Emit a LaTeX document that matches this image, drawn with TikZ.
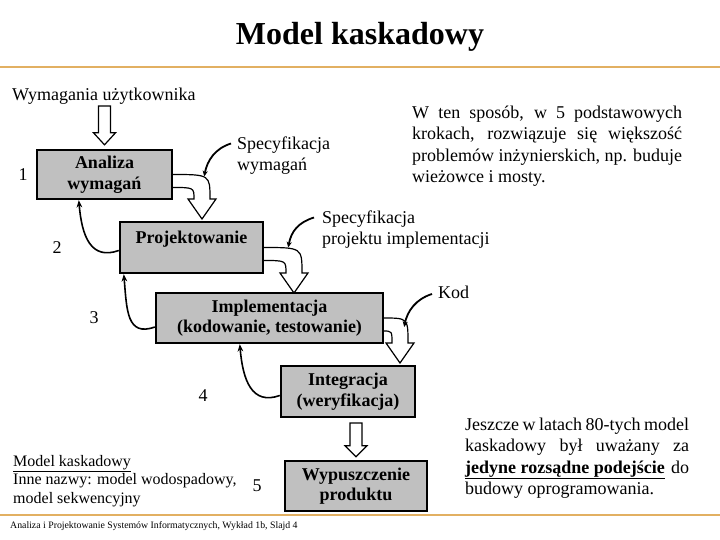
\documentclass[tikz,border=0pt]{standalone}
\usepackage{fontspec}
\setmainfont{Liberation Serif}
\usetikzlibrary{arrows.meta, positioning, calc}
\definecolor{slideline}{RGB}{226,176,98}
\definecolor{boxgray}{RGB}{192,192,192}
\hyphenpenalty=10000
\exhyphenpenalty=10000

\begin{document}
\begin{tikzpicture}[
  x=1pt, y=-1pt,
  box/.style={draw, line width=2.4pt, fill=boxgray, align=center, inner sep=0pt,
    font=\fontsize{18}{20.5}\selectfont\bfseries},
  txt/.style={inner sep=0pt, font=\fontsize{18}{21.5}\selectfont},
  num/.style={inner sep=0pt, font=\fontsize{18}{20}\selectfont},
  hollow/.style={draw, line width=1.2pt, fill=white, line join=miter},
  back/.style={-{Stealth[length=2.6mm, width=2mm]}, line width=1.6pt},
  pointer/.style={-{Stealth[length=2mm, width=1.8mm]}, line width=1.8pt},
]
  \useasboundingbox (0,0) rectangle (720,540);
  \draw[slideline, line width=1.5pt] (0,67) -- (720,67);
  \draw[slideline, line width=1.5pt] (0,515) -- (720,515);

  \node[font=\fontsize{32}{36}\selectfont\bfseries] (title) at (360,37) {Model kaskadowy};

  % bent hollow arrows go first, the boxes cover their ends
  \coordinate (anaE) at (172,174.5);
  \coordinate (projE) at (263,247.5);
  \coordinate (implE) at (383,318);
  \foreach \a/\s/\b/\d in {anaE/199/proj/30, projE/273/impl/31, implE/343/integ/17} {
    \draw[hollow] let \p1=(\a), \p2=(0,\s), \p3=(0,\s+20) in
      (\x1,\y1) .. controls (\x1+\d pt+8pt,\y1) .. (\x1+\d pt+8pt,\y2)
      -- (\x1+\d pt+14pt,\y2) -- (\x1+\d pt,\y3) -- (\x1+\d pt-14pt,\y2) -- (\x1+\d pt-8pt,\y2)
      .. controls (\x1+\d pt-8pt,\y1-13pt) .. (\x1,\y1-13pt);
  }

  \node[box, minimum width=135, minimum height=49] (ana) at (104.5,174.5) {Analiza\\wymagań};
  \node[box, minimum width=143, minimum height=51] (proj) at (191.5,247.5) {Projektowanie\\\mbox{}};
  \node[box, minimum width=227, minimum height=50] (impl) at (269.5,318) {Implementacja\\(kodowanie, testowanie)};
  \node[box, minimum width=134, minimum height=51] (integ) at (348,391.5) {Integracja\\(weryfikacja)};
  \node[box, minimum width=142, minimum height=50] (wyp) at (356,486) {Wypuszczenie\\produktu};

  \node[num, left=8pt of ana] (n1) {1};
  \node[num, left=57pt of proj] (n2) {2};
  \node[num, left=56pt of impl] (n3) {3};
  \node[num, left=72pt of integ, yshift=-4pt] (n4) {4};
  \node[num, left=22pt of wyp] (n5) {5};

  \node[txt, anchor=west] (wym) at (12,96) {Wymagania użytkownika};
  \coordinate (wymin) at (104.5,106);
  \draw[hollow] let \p1=(wymin), \p2=(ana.north) in
    (\x1-6pt,\y1) -- (\x1-6pt,\y2+16pt) -- (\x1-11pt,\y2+16pt) -- (\x1,\y2+4pt)
    -- (\x1+11pt,\y2+16pt) -- (\x1+6pt,\y2+16pt) -- (\x1+6pt,\y1) -- cycle;
  \coordinate (integout) at (356,423);
  \draw[hollow] let \p1=(integout), \p2=(wyp.north) in
    (\x1-6pt,\y1) -- (\x1-6pt,\y2+14pt) -- (\x1-11pt,\y2+14pt) -- (\x1,\y2+3pt)
    -- (\x1+11pt,\y2+14pt) -- (\x1+6pt,\y2+14pt) -- (\x1+6pt,\y1) -- cycle;

  \draw[back] ($(proj.west)+(0,3)$) .. controls +(-28,10) and +(3,36) .. ($(ana.south west)+(43,0)$);
  \draw[back] ($(impl.west)+(0,9)$) .. controls +(-28,10) and +(3,36) .. ($(proj.south west)+(5,0)$);
  \draw[back] ($(integ.west)+(0,4)$) .. controls +(-28,10) and +(3,36) .. ($(impl.south west)+(85,0)$);

  \node[txt, anchor=north west, align=left] (specw) at (237,136.5) {Specyfikacja\\wymagań};
  \node[txt, anchor=north west, align=left] (specp) at (322,210.5) {Specyfikacja\\projektu implementacji};
  \node[txt, anchor=west] (kod) at (438,292) {Kod};
  \coordinate (pw) at ($(ana.east)+(31,2)$);
  \coordinate (pp) at ($(proj.east)+(24,0)$);
  \coordinate (pk) at ($(impl.east)+(20,9)$);
  \draw[pointer] ($(specw.north west)+(-6,7)$) .. controls +(-16,5) and +(3,-16) .. (pw);
  \draw[pointer] ($(specp.north west)+(-8,7)$) .. controls +(-16,5) and +(3,-16) .. (pp);
  \draw[pointer] ($(kod.west)+(-6,2)$) .. controls +(-16,5) and +(3,-16) .. (pk);

  \node[txt, anchor=north west, text width=270pt, align=justify] (wayp) at (412,105.5)
    {W ten sposób, w 5 podstawowych\linebreak krokach, rozwiązuje się większość\linebreak
     problemów inżynierskich, np. buduje\linebreak wieżowce i mosty.};
  \node[txt, anchor=north west, text width=224pt, align=justify] (jeszcze) at (465,417.5)
    {Jeszcze w latach 80-tych model\linebreak kaskadowy był uważany za\linebreak
     \underline{\textbf{jedyne rozsądne podejście}} do\linebreak budowy oprogramowania.};
  \node[inner sep=0pt, anchor=north west, align=left, font=\fontsize{16}{18.5}\selectfont] (nazwy) at (13,455)
    {\underline{Model kaskadowy}\\Inne nazwy: model wodospadowy,\\model sekwencyjny};
  \node[inner sep=0pt, anchor=west, font=\fontsize{9.8}{11}\selectfont] (stopka) at (10,526)
    {Analiza i Projektowanie Systemów Informatycznych, Wykład 1b, Slajd 4};
\end{tikzpicture}
\end{document}
